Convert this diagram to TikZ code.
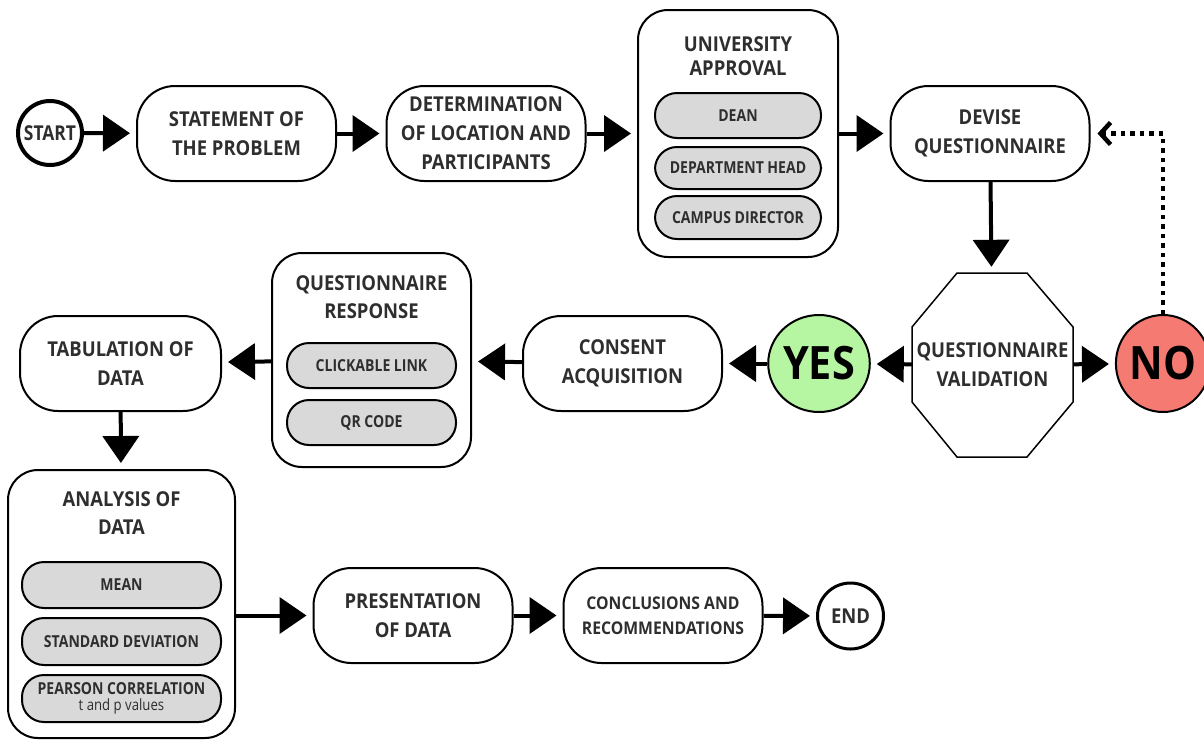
\documentclass[tikz,border=0pt]{standalone}
\usepackage{fontspec}
\setmainfont{Open Sans}[FakeStretch=0.9]
\newfontfamily\pillfont{Open Sans}[FakeStretch=0.85]
\usetikzlibrary{arrows.meta,shapes.geometric}
\definecolor{txt}{HTML}{2E2E2E}
\definecolor{pillc}{HTML}{D9D9D9}
\definecolor{yesg}{HTML}{B6F5A2}
\definecolor{nor}{HTML}{F47A72}
\begin{document}
\begin{tikzpicture}[x=1pt,y=-1pt,
  box/.style={draw,line width=2pt,rounded corners=38pt,align=center,
    font=\fontsize{20.5}{29}\selectfont\bfseries,text=txt,
    minimum width=199pt,minimum height=95pt,inner sep=0pt},
  cont/.style={draw,line width=2pt,rounded corners=30pt,minimum width=200pt,inner sep=0pt},
  ttl/.style={align=center,font=\fontsize{20.5}{24}\selectfont\bfseries,text=txt,inner sep=0pt},
  pill/.style={draw,fill=pillc,line width=2pt,rounded corners=22pt,align=center,
    font=\pillfont\fontsize{16.5}{20}\selectfont\bfseries,text=txt,
    minimum width=166pt,minimum height=45pt,inner sep=0pt},
  term/.style={circle,draw,line width=4pt,minimum size=64pt,inner sep=0pt,
    font=\fontsize{20.5}{22}\selectfont\bfseries,text=txt},
  yn/.style={ellipse,draw,line width=2pt,minimum width=82pt,minimum height=97pt,inner sep=0pt,
    font=\fontsize{46}{50}\selectfont\bfseries,text=black},
  arr/.style={line width=4pt,-{Triangle[length=27pt,width=36pt]},shorten >=6pt},
  dot/.style={line width=4.5pt,dash pattern=on 4.5pt off 5pt,-{Straight Barb[length=10pt,width=22pt,line width=4.5pt]},shorten >=7pt}
]
\useasboundingbox (0,0) rectangle (1204,740);
% row 1
\node[term,font=\pillfont\fontsize{20.5}{22}\selectfont\bfseries] (start) at (50,133) {START};
\node[box] (stmt) at (236.5,133.5) {STATEMENT OF\\THE PROBLEM};
\node[box] (det) at (486,133.5) {DETERMINATION\\OF LOCATION AND\\PARTICIPANTS};
\node[cont,minimum height=247pt] (uni) at (738,133.5) {};
\node[ttl] (unit) at (738,56) {UNIVERSITY\\APPROVAL};
\node[pill] (dean) at (738,115.5) {DEAN};
\node[pill,minimum height=42pt] (dh) at (738,168) {DEPARTMENT HEAD};
\node[pill,minimum height=43pt] (cd) at (738,217.5) {CAMPUS DIRECTOR};
\node[box] (dev) at (990,133.5) {DEVISE\\QUESTIONNAIRE};
% row 2
\node[minimum width=161pt,minimum height=184pt,inner sep=0pt] (val) at (992.5,365) {};
\draw[line width=1.5pt] (957,273) -- (1027,273) -- (1073,327) -- (1073,402) -- (1027,457) -- (957,457) -- (912,402) -- (912,327) -- cycle;
\node[align=center,font=\fontsize{20.5}{29}\selectfont\bfseries,text=txt,inner sep=0pt] (valt) at (992.5,365) {QUESTIONNAIRE\\VALIDATION};
\node[yn,fill=nor] (no) at (1163,363.5) {NO};
\node[yn,fill=yesg] (yes) at (819,363.5) {YES};
\node[box] (cons) at (622.5,363.5) {CONSENT\\ACQUISITION};
\node[cont,minimum width=199pt,minimum height=214pt] (qr) at (371.5,360) {};
\node[ttl,font=\fontsize{20.5}{28}\selectfont\bfseries] (qrt) at (371.5,297) {QUESTIONNAIRE\\RESPONSE};
\node[pill,minimum width=169pt] (link) at (371.5,365.5) {CLICKABLE LINK};
\node[pill,minimum width=169pt] (qrc) at (371.5,422.5) {QR CODE};
\node[box,minimum width=201pt] (tab) at (120.5,363.5) {TABULATION OF\\DATA};
% row 3
\node[cont,minimum width=227pt,minimum height=268pt] (ana) at (121.5,604) {};
\node[ttl,font=\fontsize{20.5}{28}\selectfont\bfseries] (anat) at (121.5,513) {ANALYSIS OF\\DATA};
\node[pill,minimum width=199pt,minimum height=46pt] (mean) at (121.5,585) {MEAN};
\node[pill,minimum width=199pt,minimum height=47pt] (sd) at (121.5,641.5) {STANDARD DEVIATION};
\node[pill,minimum width=199pt,minimum height=47pt] (pc) at (121.5,698.5) {PEARSON CORRELATION\\[-4pt]{\fontsize{15.5}{16}\selectfont\mdseries t and p values}};
\node[box] (pres) at (413,615.5) {PRESENTATION\\OF DATA};
\node[box,font=\fontsize{17.5}{25}\selectfont\bfseries] (conc) at (663,615.5) {CONCLUSIONS AND\\RECOMMENDATIONS};
\node[term,minimum size=66pt,line width=3pt] (end) at (850.5,616) {END};
% connectors
\draw[arr] (start) -- (stmt);
\draw[arr] (stmt) -- (det);
\draw[arr] (det) -- (uni);
\draw[arr] (uni) -- (dev);
\draw[arr] (dev) -- (val);
\draw[arr] (val) -- (no);
\draw[arr] (val) -- (yes);
\draw[arr] (yes) -- (cons);
\draw[arr] (cons) -- (qr);
\draw[arr] (qr) -- (tab);
\draw[arr] (tab) -- (ana);
\draw[arr] (ana.east |- pres.west) -- (pres.west);
\draw[arr] (pres) -- (conc);
\draw[arr] (conc) -- (end);
\draw[dot] (no.north) -- (no.north |- dev.east) -- (dev.east);
\end{tikzpicture}
\end{document}
